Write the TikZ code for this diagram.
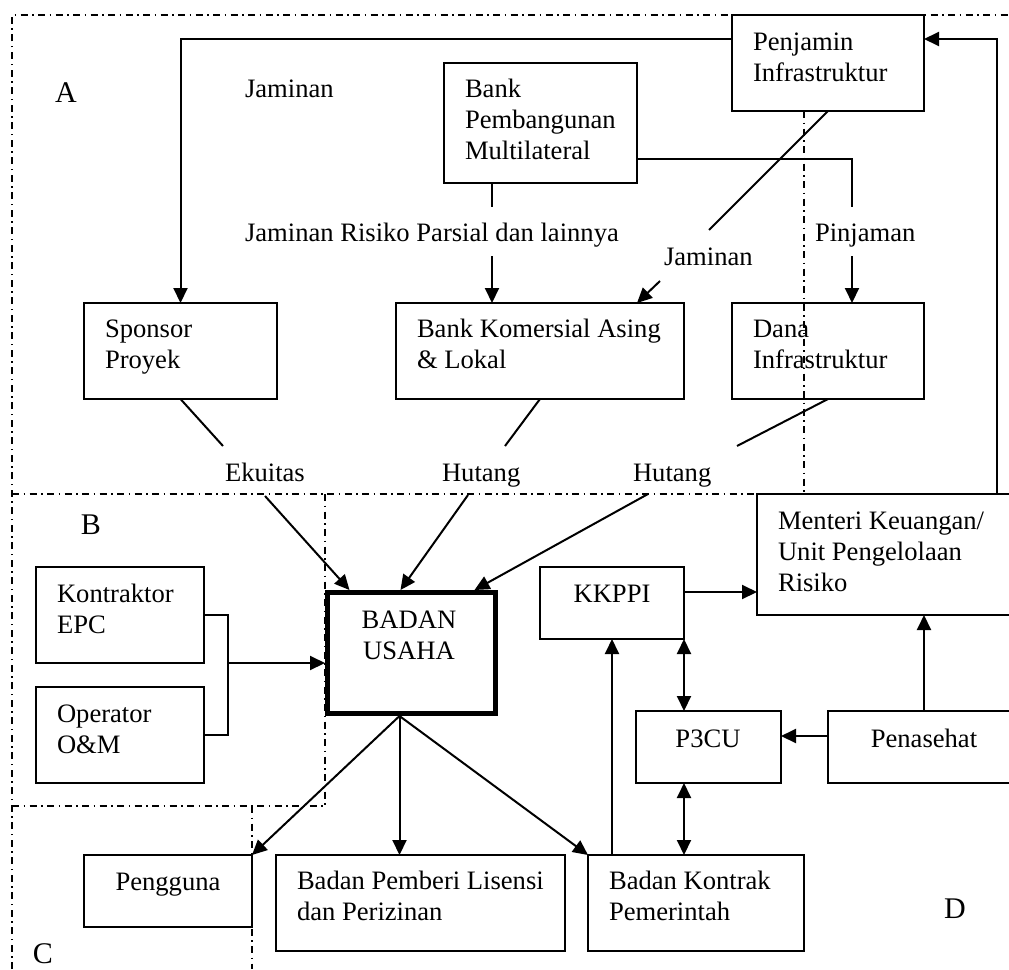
\documentclass[tikz,border=0pt]{standalone}
\usepackage{fontspec}
\setmainfont{Liberation Serif}
\usetikzlibrary{arrows.meta,calc}
\begin{document}
\begin{tikzpicture}[x=1pt,y=-1pt,
  font=\fontsize{26.6}{31}\selectfont,
  every node/.style={inner sep=0pt,outer sep=0pt},
  box/.style={draw,line width=1.6pt,anchor=north west},
  mainbox/.style={draw,line width=5pt,outer sep=2.5pt,anchor=north west},
  txt/.style={anchor=base west,align=left},
  ctxt/.style={anchor=base,align=center},
  zoneletter/.style={font=\fontsize{30}{34}\selectfont},
  link/.style={line width=2pt},
  arr/.style={line width=2pt,-{Triangle[length=15pt,width=14pt]}},
  darr/.style={line width=2pt,{Triangle[length=15pt,width=14pt]}-{Triangle[length=15pt,width=14pt]}},
  zone/.style={line width=1.3pt,dash pattern=on 7pt off 4.5pt on 1.5pt off 4.5pt},
]
\useasboundingbox (0,0) rectangle (1009,969);
\clip (0,0) rectangle (1009,969);

% zone boundaries A, B, C, D
\draw[zone] (12,969) -- (12,15) -- (1009,15);
\draw[zone] (804,111) -- (804,494);
\draw[zone] (12,494) -- (757,494);
\draw[zone] (325,494) -- (325,806);
\draw[zone] (12,806) -- (325,806);
\draw[zone] (252,806) -- (252,969);

% boxes
\node[box,minimum width=192pt,minimum height=96pt] (penjamin) at (732,15) {};
\node[box,minimum width=193pt,minimum height=120pt] (bpm) at (444,63) {};
\node[box,minimum width=193pt,minimum height=96pt] (sponsor) at (84,303) {};
\node[box,minimum width=288pt,minimum height=96pt] (bka) at (396,303) {};
\node[box,minimum width=192pt,minimum height=96pt] (dana) at (732,303) {};
\node[box,minimum width=300pt,minimum height=121pt] (menteri) at (757,494) {};
\node[box,minimum width=168pt,minimum height=96pt] (kontraktor) at (36,567) {};
\node[box,minimum width=168pt,minimum height=96pt] (operator) at (36,687) {};
\node[mainbox,minimum width=168pt,minimum height=121pt] (badan) at (325,590) {};
\node[box,minimum width=144pt,minimum height=72pt] (kkppi) at (540,567) {};
\node[box,minimum width=145pt,minimum height=72pt] (p3cu) at (636,711) {};
\node[box,minimum width=250pt,minimum height=72pt] (penasehat) at (828,711) {};
\node[box,minimum width=168pt,minimum height=72pt] (pengguna) at (84,855) {};
\node[box,minimum width=289pt,minimum height=96pt] (bpl) at (276,855) {};
\node[box,minimum width=216pt,minimum height=96pt] (bkp) at (588,855) {};

% box texts (anchored on the baseline of the last line)
\node[txt] (penjamin-t) at (753,81) {Penjamin\\Infrastruktur};
\node[txt] (bpm-t) at (465,159) {Bank\\Pembangunan\\Multilateral};
\node[txt] (sponsor-t) at (105,368) {Sponsor\\Proyek};
\node[txt] (bka-t) at (417,368) {Bank Komersial Asing\\\& Lokal};
\node[txt] (dana-t) at (753,368) {Dana\\Infrastruktur};
\node[txt] (menteri-t) at (778,591) {Menteri Keuangan/\\Unit Pengelolaan\\Risiko};
\node[txt] (kontraktor-t) at (57,633) {Kontraktor\\EPC};
\node[txt] (operator-t) at (57,753) {Operator\\O\&M};
\node[ctxt] (badan-t) at (409,659) {BADAN\\USAHA};
\node[ctxt] (kkppi-t) at (612,602) {KKPPI};
\node[ctxt] (p3cu-t) at (708,747) {P3CU};
\node[ctxt] (penasehat-t) at (924,747) {Penasehat};
\node[ctxt] (pengguna-t) at (168,890) {Pengguna};
\node[txt] (bpl-t) at (297,920) {Badan Pemberi Lisensi\\dan Perizinan};
\node[txt] (bkp-t) at (609,920) {Badan Kontrak\\Pemerintah};

% zone letters
\node[zoneletter] (zA) at (66,93) {A};
\node[zoneletter] (zB) at (91,525) {B};
\node[zoneletter] (zC) at (43,954) {C};
\node[zoneletter] (zD) at (955,909) {D};

% connector labels
\node[txt] (l-jam1) at (245,97) {Jaminan};
\node[txt] (l-jrp) at (245,241) {Jaminan Risiko Parsial dan lainnya};
\node[txt] (l-pinj) at (815,241) {Pinjaman};
\node[txt] (l-jam2) at (664,265) {Jaminan};
\node[txt] (l-ek) at (225,481) {Ekuitas};
\node[txt] (l-hut1) at (442,481) {Hutang};
\node[txt] (l-hut2) at (633,481) {Hutang};

% guarantees and loans
\draw[arr] ($(penjamin.north west)+(0,24)$) -| (sponsor.north);
\coordinate (j1) at (492,207);
\coordinate (j2) at (492,256);
\draw[link] (bpm.south -| j1) -- (j1);
\draw[arr] (j2) -- (j2 |- bka.north);
\coordinate (p1) at (852,207);
\coordinate (p2) at (852,256);
\draw[link] ($(bpm.south east)+(0,-24)$) -| (p1);
\draw[arr] (p2) -- (p2 |- dana.north);
\coordinate (g1) at (709,230);
\coordinate (g2) at (660,281);
\draw[link] (penjamin.south) -- (g1);
\draw[arr] (g2) -- ($(bka.north east)+(-47,0)$);

% equity and debt into the project company
\coordinate (e1) at (223,446);
\coordinate (e2) at (265,496);
\draw[link] (sponsor.south) -- (e1);
\draw[arr] (e2) -- ($(badan.north west)+(24.5,0)$);
\coordinate (h1) at (505,446);
\coordinate (h2) at (468,495);
\draw[link] (bka.south) -- (h1);
\draw[arr] (h2) -- ($(badan.north west)+(75.5,0)$);
\coordinate (d1) at (737,446);
\coordinate (d2) at (648,494);
\draw[link] (dana.south) -- (d1);
\draw[arr] (d2) -- ($(badan.north west)+(149.5,0)$);

% contractors
\coordinate (k1) at (228,615);
\coordinate (k2) at (228,663);
\draw[link] (kontraktor.east) -- (kontraktor.east -| k1) |- (operator.east);
\draw[arr] (k2) -- (k2 -| badan.west);

% project company outputs
\coordinate (b0) at ($(badan.south)+(-12,0)$);
\draw[arr] (b0) -- (pengguna.north east);
\draw[arr] (b0) -- (b0 |- bpl.north);
\draw[arr] (b0) -- (bkp.north west);

% government side
\draw[arr] (bkp.north -| kkppi.south) -- (kkppi.south);
\draw[darr] (kkppi.south east) -- (kkppi.south east |- p3cu.north);
\draw[darr] (p3cu.south -| kkppi.south east) -- (bkp.north -| kkppi.south east);
\coordinate (m1) at (684,592);
\draw[arr] (m1) -- (m1 -| menteri.west);
\coordinate (a1) at (828,736);
\draw[arr] (a1) -- (a1 -| p3cu.east);
\coordinate (a2) at (924,711);
\draw[arr] (a2) -- (a2 |- menteri.south);
\coordinate (r1) at (997,494);
\draw[arr] (r1) |- ($(penjamin.north east)+(0,24)$);
\end{tikzpicture}
\end{document}
